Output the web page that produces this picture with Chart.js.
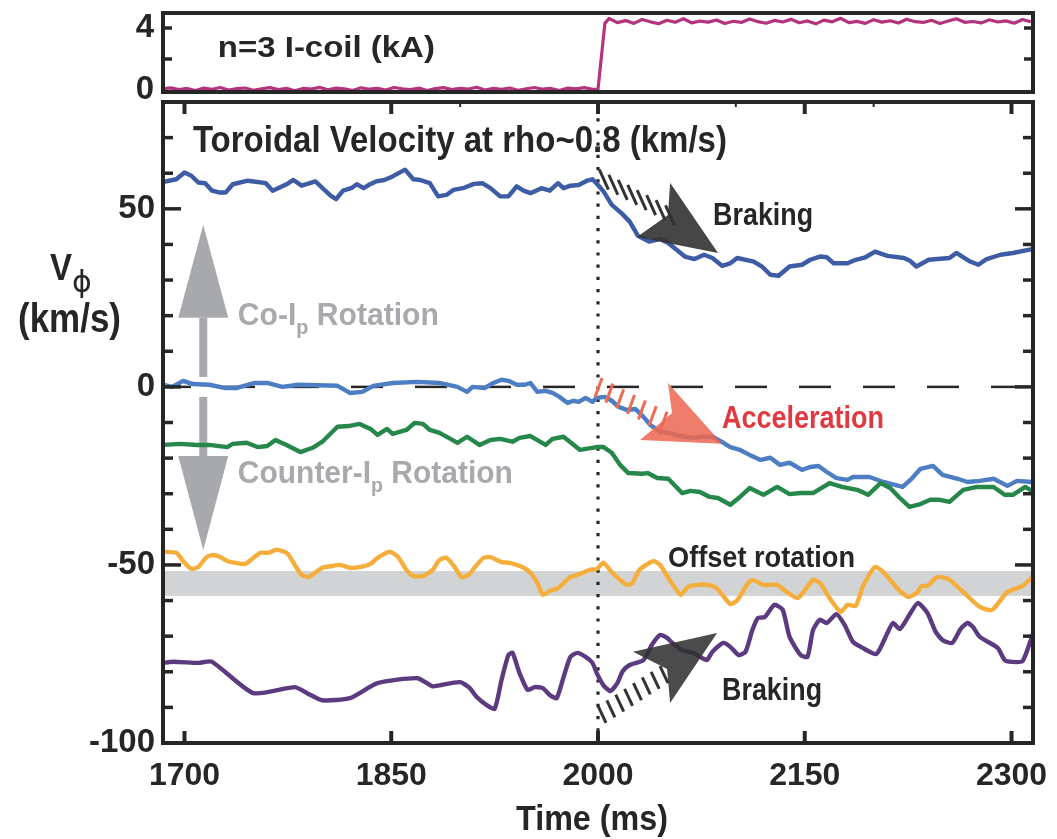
<!DOCTYPE html>
<html>
<head>
<meta charset="utf-8">
<script src="https://cdn.jsdelivr.net/npm/chart.js@4.4.0/dist/chart.umd.min.js"></script>
<style>
  html, body { margin: 0; padding: 0; background: #fff; }
  #wrap { position: relative; width: 1057px; height: 839px; }
  #topBox { position: absolute; left: 0; top: 0; width: 1057px; height: 100px; }
  #mainBox { position: absolute; left: 0; top: 100px; width: 1057px; height: 739px; }
</style>
</head>
<body>
<div id="wrap">
  <div id="topBox"><canvas id="coil"></canvas></div>
  <div id="mainBox"><canvas id="vel"></canvas></div>
</div>
<script>
const INK = '#262626';
const GRAY = '#a7a9ac';
const TXT = '"Liberation Sans", Arial, sans-serif';

// axis ticks
const xTicks = [1700, 1850, 2000, 2150, 2300];
const xMinorTop = [1900, 2100, 2200];
const yTicks = [-100, -50, 0, 50];
const coilTicks = [0, 4];

// n=3 I-coil current (kA)
const coilTime = [1684,1690,1696,1702,1708,1714,1720,1726,1732,1738,1744,1750,1756,1762,1768,1774,1780,1786,1792,1798,
  1804,1810,1816,1822,1828,1834,1840,1846,1852,1858,1864,1870,1876,1882,1888,1894,1900,1906,1912,1918,
  1924,1930,1936,1942,1948,1954,1960,1966,1972,1978,1984,1990,1996,2000,2005,
  2008,2014,2020,2026,2032,2038,2044,2050,2056,2062,2068,2074,2080,2086,2092,2098,2104,2110,2116,2122,
  2128,2134,2140,2146,2152,2158,2164,2170,2176,2182,2188,2194,2200,2206,2212,2218,2224,2230,2236,2242,
  2248,2254,2260,2266,2272,2278,2284,2290,2296,2302,2308,2314];
const coilKA = [0.06,0.14,0.02,0.1,-0.04,0.12,0.05,0.16,0.0,0.09,0.13,-0.02,0.08,0.15,0.03,0.11,-0.05,0.1,0.06,0.17,
  0.01,0.12,0.07,-0.03,0.14,0.05,0.1,0.0,0.16,0.08,0.03,0.12,-0.04,0.09,0.15,0.02,0.11,0.06,0.18,0.0,
  0.1,0.04,0.13,-0.02,0.08,0.16,0.05,0.1,-0.03,0.12,0.07,0.15,0.04,0.05,4.3,
  4.62,4.35,4.48,4.3,4.55,4.4,4.28,4.5,4.37,4.6,4.33,4.45,4.38,4.52,4.29,4.44,4.36,4.58,4.41,4.31,
  4.49,4.39,4.56,4.34,4.46,4.27,4.51,4.4,4.63,4.35,4.43,4.3,4.54,4.38,4.47,4.32,4.57,4.41,4.36,4.5,
  4.29,4.45,4.6,4.37,4.42,4.33,4.53,4.39,4.46,4.31,4.55,4.4];

// toroidal velocity (km/s), upper blue trace
const blueTopTime = [1684,1694,1700,1705,1710,1715,1720,1725,1730,1735,1746,1759,1764,1774,1779,1785,1795,1801,1806,1810,
  1815,1821,1825,1830,1835,1839,1845,1851,1860,1866,1871,1878,1884,1890,1895,1902,1910,1916,1922,1929,
  1935,1941,1946,1951,1959,1965,1971,1975,1980,1986,1992,1996,2000,2004,2010,2017,2023,2029,2037,2045,
  2051,2057,2063,2070,2077,2083,2090,2096,2101,2113,2119,2125,2131,2139,2148,2154,2161,2166,2171,2181,
  2187,2194,2201,2210,2222,2226,2231,2240,2255,2260,2270,2276,2282,2292,2301,2315];
const blueTop = [57.5,58.3,60.2,59.3,57.4,57.2,55.1,54.6,54.6,56.9,57.9,57.2,55.1,56.9,58.1,56.5,57.7,55.5,53.7,52.7,
  55.1,55.8,56.9,55.8,57.0,57.7,58.1,59.1,61.0,58.3,58.1,57.2,53.5,53.9,55.3,55.8,57.0,57.2,55.8,53.5,
  53.5,56.3,55.1,54.4,55.8,55.1,57.2,55.8,56.5,56.7,57.9,58.3,56.7,54.9,51.1,48.8,46.4,42.4,40.8,41.5,
  40.4,38.5,36.6,35.9,37.1,36.2,34.0,34.7,36.2,35.2,33.8,31.5,31.2,33.8,34.3,35.7,36.6,36.4,34.7,34.7,
  35.7,36.4,38.0,36.8,36.2,35.5,33.8,35.7,36.2,37.6,35.2,34.3,35.9,37.1,37.6,38.7];

// light blue trace starting near zero
const blueZeroTime = [1684,1691,1699,1706,1718,1729,1738,1751,1760,1771,1782,1811,1820,1829,1837,1851,1869,1885,1898,1905,
  1909,1918,1924,1930,1935,1941,1947,1951,1956,1962,1967,1972,1978,1982,1986,1991,1996,1999,2005,2010,
  2015,2021,2027,2033,2038,2045,2052,2060,2069,2076,2083,2091,2096,2103,2110,2118,2125,2132,2139,2148,
  2154,2160,2166,2173,2181,2185,2197,2207,2221,2228,2234,2243,2250,2261,2268,2277,2287,2297,2304,2315];
const blueZero = [0.6,0,1.7,0.8,0.6,-0.3,-0.3,1.1,1.1,0,0.6,0.3,-1.7,-1.4,0.3,1.1,1.4,1.1,0,-1.4,
  0,-0.3,1.1,2.0,1.7,0.6,0.6,1.1,-1.4,-1.1,-1.7,-2.8,-4.5,-3.9,-4.2,-3.1,-4.2,-3.1,-2.8,-3.9,
  -5.6,-6.5,-6.2,-8.4,-10.7,-12.6,-12.9,-13.8,-14.3,-14.0,-14.0,-15.7,-16.9,-17.7,-19.1,-20.5,-19.9,-21.9,-21.3,-23.3,
  -22.5,-22.2,-23.9,-25.6,-26.1,-25.3,-25.3,-26.7,-28.1,-25.6,-23.0,-22.2,-24.7,-25.8,-26.7,-26.4,-25.8,-27.8,-26.4,-26.7];

// green trace
const greenTime = [1684,1697,1709,1718,1731,1735,1745,1753,1760,1766,1774,1784,1793,1800,1811,1819,1827,1835,1840,1847,
  1851,1861,1867,1873,1878,1885,1893,1898,1905,1914,1922,1929,1938,1943,1951,1962,1967,1975,1987,1999,
  2004,2010,2016,2022,2032,2036,2043,2051,2061,2067,2074,2081,2087,2096,2103,2110,2120,2130,2139,2147,
  2156,2168,2177,2188,2196,2205,2212,2219,2226,2234,2241,2248,2255,2265,2275,2287,2295,2301,2310,2316];
const green = [-16.3,-16.0,-16.3,-16.3,-16.9,-16.0,-15.7,-16.9,-16.6,-14.9,-16.3,-18.3,-17.1,-15.4,-11.2,-11.0,-10.4,-11.8,-13.5,-11.8,
  -13.2,-12.1,-10.1,-10.4,-12.1,-12.9,-14.6,-15.7,-14.0,-16.3,-14.9,-14.6,-15.4,-14.3,-13.8,-16.3,-14.6,-14.0,-17.7,-16.9,
  -16.9,-18.5,-21.9,-24.2,-24.4,-24.2,-25.6,-25.8,-29.8,-29.2,-29.5,-30.9,-31.2,-33.1,-30.9,-28.4,-30.3,-28.1,-30.1,-29.8,
  -29.8,-27.0,-28.1,-28.9,-30.3,-27.0,-28.4,-31.2,-33.7,-32.9,-31.7,-31.7,-32.3,-28.9,-28.1,-28.1,-30.3,-30.3,-28.1,-29.5];

// orange trace
const orangeTime = [1684,1694,1700,1705,1710,1716,1721,1726,1731,1737,1744,1750,1755,1761,1766,1771,1775,1780,1785,1790,
  1800,1807,1813,1820,1827,1835,1840,1849,1855,1861,1866,1873,1880,1885,1890,1896,1901,1906,1912,1917,
  1922,1930,1936,1945,1951,1956,1960,1965,1971,1980,1985,1994,1999,2004,2010,2016,2021,2025,2030,2040,
  2045,2052,2060,2065,2072,2080,2086,2096,2101,2108,2112,2120,2130,2137,2145,2156,2161,2168,2176,2181,
  2187,2192,2201,2207,2217,2225,2231,2235,2239,2246,2254,2265,2277,2286,2297,2308,2316];
const orange = [-46.3,-46.6,-49.4,-51.1,-50.6,-47.8,-47.2,-47.8,-48.9,-49.4,-49.7,-48.0,-46.6,-46.6,-45.8,-46.1,-46.9,-50.0,-52.8,-53.4,
  -50.8,-50.3,-50.0,-50.8,-50.6,-49.7,-48.0,-46.3,-47.8,-51.4,-53.1,-53.1,-51.4,-48.6,-48.0,-50.6,-53.4,-52.8,-50.0,-48.0,
  -47.8,-49.2,-49.4,-50.6,-52.2,-55.1,-58.4,-57.3,-56.5,-53.4,-52.8,-51.4,-51.1,-49.4,-52.0,-54.2,-55.6,-55.1,-51.4,-48.9,
  -50.0,-54.2,-58.4,-56.2,-55.6,-55.6,-56.5,-61.0,-59.9,-55.6,-54.2,-55.6,-55.6,-57.6,-59.3,-54.2,-55.1,-59.3,-63.2,-61.2,
  -61.5,-56.2,-50.6,-52.0,-56.5,-59.0,-57.9,-55.9,-55.9,-53.4,-53.9,-57.6,-61.8,-62.6,-57.6,-55.9,-53.1];

// purple trace
const purpleTime = [1684,1692,1710,1720,1750,1780,1789,1800,1820,1840,1869,1880,1885,1900,1907,1912,1919,1925,1930,1935,
  1938,1943,1949,1954,1960,1965,1970,1975,1980,1985,1991,1996,1999,2004,2009,2014,2018,2023,2033,2039,
  2045,2050,2054,2061,2069,2074,2079,2083,2091,2096,2102,2107,2112,2116,2121,2128,2134,2139,2147,2152,
  2156,2161,2166,2173,2179,2185,2192,2202,2210,2214,2219,2225,2232,2239,2245,2250,2257,2263,2268,2272,
  2277,2290,2295,2300,2308,2314,2316];
const purple = [-77.5,-77.2,-77.5,-77.2,-86.0,-84.3,-86.0,-88.0,-87.4,-83.2,-81.8,-84.1,-83.8,-82.9,-84.6,-87.1,-89.3,-90.4,-82.3,-75.3,
  -74.7,-80.3,-85.1,-84.3,-84.6,-86.5,-87.4,-81.5,-75.8,-74.7,-75.8,-77.5,-80.3,-83.8,-85.4,-83.2,-79.8,-78.1,-76.7,-72.5,
  -69.7,-70.5,-71.9,-73.9,-74.7,-75.8,-76.7,-74.4,-71.9,-73.0,-75.3,-74.4,-68.3,-64.9,-64.6,-61.2,-62.6,-70.2,-75.3,-75.8,
  -68.3,-65.4,-66.3,-63.8,-66.9,-71.6,-73.3,-75.0,-69.1,-66.3,-68.0,-64.6,-60.7,-63.5,-68.8,-71.1,-71.9,-68.0,-66.3,-67.4,
  -70.2,-73.3,-76.7,-77.2,-77.0,-71.1,-68.8];

// offset rotation band (km/s)
const bandHigh = -51.7, bandLow = -58.7;

const pts = (xs, ys) => xs.map((x, i) => ({x, y: ys[i]}));

const trace = (label, xs, ys, color, width, tension) => ({
  label, data: pts(xs, ys), borderColor: color, borderWidth: width,
  pointRadius: 0, tension: tension || 0, borderJoinStyle: 'round', fill: false
});

function fitText(ctx, parts, px, py, width, color) {
  // parts: [text, font, dy]
  ctx.save();
  ctx.fillStyle = color;
  ctx.textAlign = 'left';
  ctx.textBaseline = 'alphabetic';
  let total = 0;
  const ws = parts.map(([s, f]) => { ctx.font = f; const w = ctx.measureText(s).width; total += w; return w; });
  ctx.translate(px, py);
  ctx.scale(width / total, 1);
  let cx = 0;
  parts.forEach(([s, f, dy], i) => { ctx.font = f; ctx.fillText(s, cx, dy || 0); cx += ws[i]; });
  ctx.restore();
}
const bold = s => `bold ${s}px ${TXT}`;

function seg(ctx, x1, y1, x2, y2) {
  ctx.beginPath(); ctx.moveTo(x1, y1); ctx.lineTo(x2, y2); ctx.stroke();
}

// keep the plot box where the figure has it: no extra room for end labels
const noEndPadding = s => { s.paddingTop = 0; s.paddingBottom = 0; s.paddingLeft = 0; s.paddingRight = 0; };

const velDecor = {
  id: 'velDecor',
  beforeDatasetsDraw(chart) {
    const {ctx, chartArea: a, scales: {x, y}} = chart;
    ctx.save();
    ctx.beginPath();
    ctx.rect(a.left, a.top, a.right - a.left, a.bottom - a.top);
    ctx.clip();

    // offset band
    const b1 = y.getPixelForValue(bandHigh), b2 = y.getPixelForValue(bandLow);
    ctx.fillStyle = '#d1d3d4';
    ctx.fillRect(a.left, b1, a.right - a.left, b2 - b1);

    // zero line
    const y0 = y.getPixelForValue(0);
    ctx.strokeStyle = INK;
    ctx.lineWidth = 2.5;
    ctx.setLineDash([32, 32]);
    ctx.lineDashOffset = 4;
    seg(ctx, a.left, y0, a.right - 14, y0);

    // coil switch-on time
    const x0 = x.getPixelForValue(2000);
    ctx.lineWidth = 3.2;
    ctx.setLineDash([3.2, 9]);
    ctx.lineDashOffset = 0;
    seg(ctx, x0, a.top + 4, x0, a.bottom);
    ctx.setLineDash([]);

    // co / counter rotation arrow
    const ax = x.getPixelForValue(1713.6);
    const P = v => y.getPixelForValue(v);
    ctx.fillStyle = GRAY;
    ctx.beginPath();
    ctx.moveTo(ax, P(45.5)); ctx.lineTo(ax - 25, P(19.4)); ctx.lineTo(ax + 25, P(19.4));
    ctx.closePath(); ctx.fill();
    ctx.fillRect(ax - 4, P(19.4), 8, P(2.8) - P(19.4));
    ctx.fillRect(ax - 4, P(-2.8), 8, P(-19.4) - P(-2.8));
    ctx.beginPath();
    ctx.moveTo(ax, P(-45.8)); ctx.lineTo(ax - 25, P(-19.4)); ctx.lineTo(ax + 25, P(-19.4));
    ctx.closePath(); ctx.fill();

    fitText(ctx, [['Co-I', bold(32)], ['p', bold(21), 9], [' Rotation', bold(32)]],
      x.getPixelForValue(1738.7), P(17.4), 201, GRAY);
    fitText(ctx, [['Counter-I', bold(32)], ['p', bold(21), 9], [' Rotation', bold(32)]],
      x.getPixelForValue(1738.7), P(-27.0), 275, GRAY);
    ctx.restore();
  },
  afterDatasetsDraw(chart) {
    const {ctx, chartArea: a, scales: {x, y}} = chart;
    const X = t => x.getPixelForValue(t), Y = v => y.getPixelForValue(v);

    const head = (corners, fill) => {
      ctx.beginPath();
      corners.forEach(([t, v], i) => i ? ctx.lineTo(X(t), Y(v)) : ctx.moveTo(X(t), Y(v)));
      ctx.closePath();
      ctx.fillStyle = fill;
      ctx.fill();
    };
    const hatch = (from, to, n, dx, dy, color) => {
      const x1 = X(from[0]), y1 = Y(from[1]), x2 = X(to[0]), y2 = Y(to[1]);
      ctx.strokeStyle = color;
      ctx.lineWidth = 3;
      ctx.lineCap = 'butt';
      for (let i = 0; i < n; i++) {
        const f = i / (n - 1);
        const px = x1 + (x2 - x1) * f, py = y1 + (y2 - y1) * f;
        seg(ctx, px, py, px + dx, py + dy);
      }
    };

    ctx.save();
    // braking of co-rotating trace
    hatch([2001.0, 61.0], [2049.0, 51.0], 8, 9, 20, '#333');
    head([[2087.1, 37.6], [2052.3, 57.3], [2050.8, 48.3], [2028.3, 42.1]], 'rgba(50,50,50,0.9)');
    // acceleration of near-zero trace
    hatch([2002.9, 2.5], [2050.1, -7.0], 7, -7, 19, '#ee6a52');
    head([[2090.0, -16.0], [2050.8, 1.1], [2053.7, -7.3], [2030.5, -14.9]], 'rgba(236,104,80,0.86)');
    // braking of counter-rotating trace
    hatch([2000.0, -89.6], [2045.0, -78.4], 8, 8, 17, '#333');
    head([[2086.4, -69.1], [2025.4, -74.4], [2050.1, -79.2], [2052.3, -88.8]], 'rgba(50,50,50,0.88)');

    fitText(ctx, [['Toroidal Velocity at rho~0.8 (km/s)', bold(37)]], X(1706.1), Y(66.0), 534, INK);
    fitText(ctx, [['Braking', bold(31)]], X(2083.5), Y(45.5), 100, INK);
    fitText(ctx, [['Acceleration', bold(31)]], X(2090.0), Y(-11.5), 162, '#e2383f');
    fitText(ctx, [['Offset rotation', bold(30)]], X(2050.8), Y(-50.6), 187, INK);
    fitText(ctx, [['Braking', bold(31)]], X(2090.0), Y(-87.9), 100, INK);

    // frame and inward ticks
    ctx.strokeStyle = INK;
    ctx.lineWidth = 3.5;
    for (let v = -90; v <= 70; v += 10) {
      const py = Y(v), len = v % 50 === 0 ? 18 : 10;
      seg(ctx, a.left, py, a.left + len, py);
      seg(ctx, a.right, py, a.right - len, py);
    }
    ctx.lineWidth = 4;
    xTicks.forEach(t => {
      seg(ctx, X(t), a.bottom, X(t), a.bottom - 12);
      seg(ctx, X(t), a.top, X(t), a.top + 12);
    });
    ctx.lineWidth = 2;
    xMinorTop.forEach(t => seg(ctx, X(t), a.top, X(t), a.top + 5));
    ctx.lineWidth = 4;
    ctx.strokeRect(a.left, a.top, a.right - a.left, a.bottom - a.top);

    // axis titles
    fitText(ctx, [['V', bold(36)]], 50, 180, 22, INK);
    ctx.font = '30px "DejaVu Sans", sans-serif';
    ctx.fillStyle = INK;
    ctx.fillText('\u03D5', 72, 192);
    fitText(ctx, [['(km/s)', bold(40)]], 18, 232, 103, INK);
    fitText(ctx, [['Time (ms)', bold(35)]], 516, 730, 152, INK);
    ctx.restore();
  }
};

const coilDecor = {
  id: 'coilDecor',
  afterDatasetsDraw(chart) {
    const {ctx, chartArea: a, scales: {x, y}} = chart;
    ctx.save();
    ctx.strokeStyle = INK;
    ctx.lineWidth = 3.5;
    [2, 4].forEach(v => {
      const py = y.getPixelForValue(v);
      seg(ctx, a.left, py, a.left + 9, py);
      seg(ctx, a.right, py, a.right - 9, py);
    });
    ctx.lineWidth = 4;
    ctx.strokeRect(a.left, a.top, a.right - a.left, a.bottom - a.top);
    fitText(ctx, [['n=3 I-coil (kA)', bold(30)]], x.getPixelForValue(1724.2), y.getPixelForValue(2.13), 217, INK);
    ctx.restore();
  }
};

const tickFont = {family: TXT, weight: 'bold', size: 33};
const xMin = 1684.4, xMax = 2315.6;

new Chart(document.getElementById('coil'), {
  type: 'line',
  data: {datasets: [trace('I-coil', coilTime, coilKA, '#b5327e', 3.2)]},
  options: {
    responsive: true, maintainAspectRatio: false, animation: false, devicePixelRatio: 1,
    layout: {padding: {top: 13, right: 24, bottom: 8, left: 0}},
    plugins: {legend: {display: false}, tooltip: {enabled: false}},
    scales: {
      x: {type: 'linear', min: xMin, max: xMax, display: false},
      y: {
        min: -0.13, max: 4.97,
        afterBuildTicks: s => { s.ticks = coilTicks.map(v => ({value: v})); },
        afterFit: s => { s.width = 163; noEndPadding(s); },
        grid: {display: false, drawTicks: false},
        border: {display: false},
        ticks: {font: tickFont, color: INK, padding: 9}
      }
    }
  },
  plugins: [coilDecor]
});

new Chart(document.getElementById('vel'), {
  type: 'line',
  data: {
    datasets: [
      trace('green', greenTime, green, '#25874a', 4.4),
      trace('blue near zero', blueZeroTime, blueZero, '#4d7ec3', 4.4),
      trace('blue co-rotating', blueTopTime, blueTop, '#3e5ba6', 4.4),
      trace('orange', orangeTime, orange, '#f5ae3b', 4.4, 0.2),
      trace('purple', purpleTime, purple, '#5b3a80', 4.4, 0.2)
    ]
  },
  options: {
    responsive: true, maintainAspectRatio: false, animation: false, devicePixelRatio: 1,
    layout: {padding: {top: 2, right: 24, bottom: 0, left: 0}},
    plugins: {legend: {display: false}, tooltip: {enabled: false}},
    scales: {
      x: {
        type: 'linear', min: xMin, max: xMax,
        afterBuildTicks: s => { s.ticks = xTicks.map(v => ({value: v})); },
        afterFit: s => { s.height = 96; noEndPadding(s); },
        grid: {display: false, drawTicks: false},
        border: {display: false},
        ticks: {
          font: {family: TXT, weight: 'bold', size: 32}, color: INK, padding: 14,
          maxRotation: 0, autoSkip: false, callback: v => String(v)
        }
      },
      y: {
        min: -100, max: 80,
        afterBuildTicks: s => { s.ticks = yTicks.map(v => ({value: v})); },
        afterFit: s => { s.width = 163; noEndPadding(s); },
        grid: {display: false, drawTicks: false},
        border: {display: false},
        ticks: {font: tickFont, color: INK, padding: 8}
      }
    }
  },
  plugins: [velDecor]
});
</script>
</body>
</html>
